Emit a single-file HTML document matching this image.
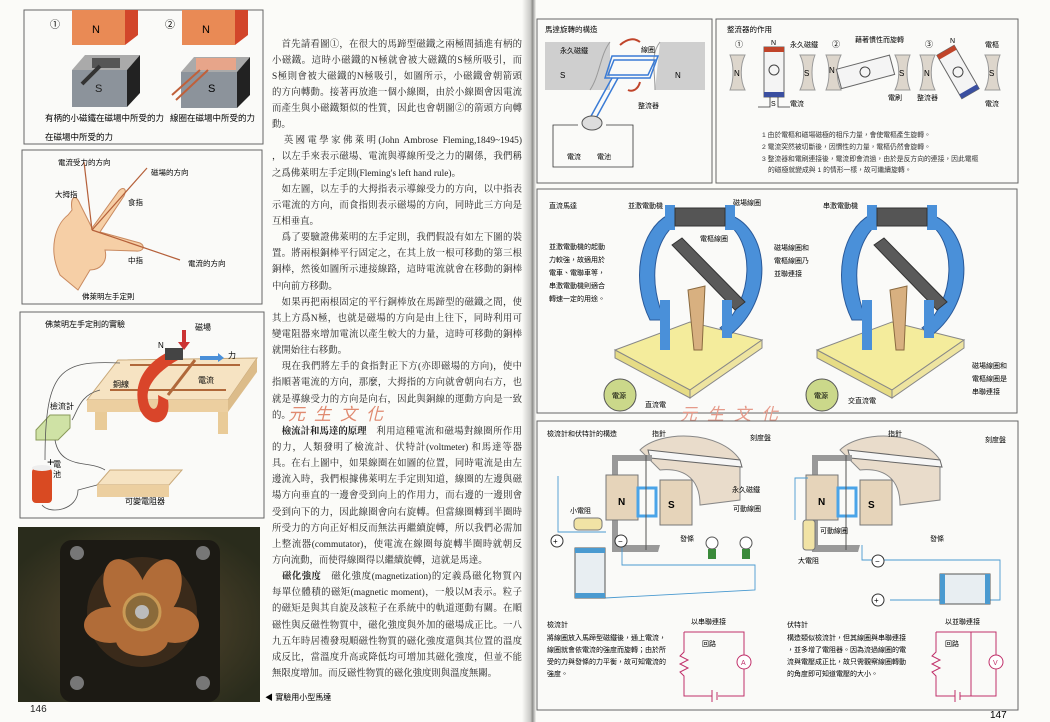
<!DOCTYPE html>
<html><head><meta charset="utf-8"><style>
*{margin:0;padding:0;box-sizing:border-box}
body{width:1050px;height:722px;overflow:hidden;background:#fbfbf8;position:relative;font-family:"Liberation Serif","Noto Serif CJK SC","Noto Sans CJK TC",serif;color:#222}
.l{position:absolute;left:272px;width:250px;font-size:9.4px;line-height:15px;white-space:nowrap;text-align:justify;text-align-last:justify;letter-spacing:0;overflow:hidden}
.l.e{text-align-last:left}
.l b{font-weight:bold;letter-spacing:-0.3px}
svg text{font-family:"Liberation Sans","Noto Sans CJK TC",sans-serif}
</style></head><body>
<svg width="1050" height="722" style="position:absolute;left:0;top:0">
<defs>
<linearGradient id="gut" x1="0" x2="1"><stop offset="0" stop-color="#fbfbf8"/><stop offset=".6" stop-color="#c9c9c6"/><stop offset=".75" stop-color="#8d8d8a"/><stop offset="1" stop-color="#f4f4f1"/></linearGradient>
<radialGradient id="ph" cx=".5" cy=".55" r=".6"><stop offset="0" stop-color="#5a4a30"/><stop offset="1" stop-color="#2a2c1c"/></radialGradient>
</defs>
<rect x="522" y="0" width="14" height="722" fill="url(#gut)"/>
<!-- LEFT BOX 1 -->
<rect x="24" y="10" width="239" height="134" fill="#fafaf8" stroke="#666" stroke-width="1"/>
<text x="50" y="28" font-size="10">①</text><text x="165" y="28" font-size="10">②</text>
<polygon points="72,10 125,10 125,45 72,45" fill="#e98a55"/><polygon points="125,10 138,10 138,35 125,45" fill="#d2452a"/>
<text x="92" y="33" font-size="11">N</text>
<polygon points="182,10 235,10 235,45 182,45" fill="#e98a55"/><polygon points="235,10 248,10 248,35 235,45" fill="#d2452a"/>
<text x="202" y="33" font-size="11">N</text>
<polygon points="72,70 85,55 140,55 127,70" fill="#aaa"/><polygon points="72,70 127,70 127,107 72,107" fill="#8c939b"/><polygon points="127,70 140,55 140,93 127,107" fill="#222"/>
<rect x="92" y="58" width="28" height="10" fill="#555"/><line x1="100" y1="66" x2="82" y2="84" stroke="#333" stroke-width="4"/>
<text x="95" y="92" font-size="11" fill="#222">S</text>
<polygon points="181,72 194,57 250,57 237,72" fill="#aaa"/><polygon points="181,72 237,72 237,108 181,108" fill="#8c939b"/><polygon points="237,72 250,57 250,95 237,108" fill="#222"/>
<rect x="196" y="58" width="40" height="12" fill="#e7a58a"/><line x1="200" y1="70" x2="172" y2="95" stroke="#c0603a" stroke-width="2"/><line x1="208" y1="70" x2="176" y2="100" stroke="#c0603a" stroke-width="2"/>
<text x="208" y="92" font-size="11">S</text>
<text x="45" y="121" font-size="8.5">有柄的小磁鐵在磁場中所受的力</text>
<text x="170" y="121" font-size="8.5">線圈在磁場中所受的力</text>
<text x="45" y="140" font-size="8.5">在磁場中所受的力</text>
<!-- BOX 2 -->
<rect x="22" y="150" width="240" height="154" fill="#fafaf8" stroke="#666"/>
<path d="M60,275 C48,250 55,225 68,215 L72,210 C70,198 75,192 80,204 L92,228 L118,192 C122,186 128,188 124,196 L100,232 L140,243 C146,246 143,252 136,251 L105,250 C108,262 100,270 90,270 L78,290 Z" fill="#f6cfa6" stroke="#c98a60"/>
<g stroke="#b5603a" stroke-width="1.2" fill="none">
<line x1="92" y1="230" x2="84" y2="162"/><line x1="92" y1="230" x2="147" y2="168"/><line x1="92" y1="230" x2="180" y2="260"/>
</g>
<g font-size="7.5"><text x="58" y="165">電流受力的方向</text><text x="151" y="175">磁場的方向</text><text x="55" y="197">大拇指</text><text x="128" y="205">食指</text><text x="128" y="263">中指</text><text x="188" y="266">電流的方向</text><text x="82" y="299">佛萊明左手定則</text></g>
<!-- BOX 3 -->
<rect x="20" y="312" width="244" height="206" fill="#fafaf8" stroke="#666"/>
<text x="45" y="327" font-size="8">佛萊明左手定則的實驗</text>
<polygon points="87,400 118,360 257,358 228,400" fill="#f6e3c2" stroke="#c9a97a"/><polygon points="87,400 228,400 228,412 87,412" fill="#eccfa0"/><polygon points="228,400 257,358 257,372 228,412" fill="#dcbc8a"/>
<rect x="95" y="412" width="12" height="18" fill="#e9cb98"/><rect x="218" y="412" width="10" height="22" fill="#e9cb98"/>
<line x1="130" y1="365" x2="240" y2="365" stroke="#b0683a" stroke-width="2"/><line x1="110" y1="390" x2="226" y2="390" stroke="#b0683a" stroke-width="2"/>
<line x1="195" y1="360" x2="168" y2="395" stroke="#b0683a" stroke-width="3"/>
<path d="M172,350 C150,360 130,380 140,410 C150,430 172,425 168,400 L158,395 C160,412 150,413 148,400 C145,385 160,370 178,360 Z" fill="#d9452a"/>
<rect x="165" y="348" width="18" height="12" fill="#444"/>
<rect x="182" y="330" width="4" height="12" fill="#c33"/><polygon points="178,342 190,342 184,350" fill="#c33"/>
<rect x="200" y="356" width="18" height="4" fill="#4a8fd8"/><polygon points="218,353 224,358 218,362" fill="#4a8fd8"/>
<g font-size="8"><text x="158" y="348">N</text><text x="195" y="330">磁場</text><text x="228" y="358">力</text><text x="198" y="383">電流</text><text x="113" y="387">銅線</text><text x="50" y="409">檢流計</text><text x="53" y="467">電</text><text x="53" y="477">池</text><text x="125" y="504">可變電阻器</text></g>
<polygon points="36,430 50,415 70,415 70,428 58,440 36,440" fill="#cfe2a5" stroke="#8a9a5a"/>
<text x="47" y="466" font-size="12">+</text>
<rect x="32" y="468" width="20" height="35" rx="4" fill="#d94a22"/><ellipse cx="42" cy="468" rx="10" ry="3" fill="#eee"/>
<polygon points="97,485 110,470 182,470 169,485" fill="#f6e3c2" stroke="#c9a97a"/><rect x="97" y="485" width="72" height="12" fill="#eccfa0"/>
<g stroke="#555" fill="none" stroke-width=".8"><path d="M120,363 C60,360 45,370 45,460"/><path d="M100,390 C80,395 78,410 72,420"/><path d="M55,440 C60,470 90,460 105,470"/><path d="M42,505 C50,515 78,510 78,490 L97,485"/></g>
<!-- PHOTO -->
<rect x="18" y="527" width="242" height="175" fill="url(#ph)"/>
<rect x="60" y="540" width="160" height="162" rx="12" fill="#1c1a14"/>
<circle cx="142" cy="612" r="55" fill="#3a2a1a"/>
<g fill="#b8703a" opacity=".95"><ellipse cx="125" cy="590" rx="20" ry="32" transform="rotate(-20 125 590)"/><ellipse cx="160" cy="590" rx="20" ry="32" transform="rotate(20 160 590)"/><ellipse cx="110" cy="625" rx="26" ry="18"/><ellipse cx="175" cy="625" rx="24" ry="18"/><ellipse cx="142" cy="640" rx="26" ry="16"/></g>
<circle cx="142" cy="612" r="18" fill="#8a6a3a" stroke="#c99a55" stroke-width="3"/>
<circle cx="142" cy="612" r="7" fill="#bbb"/>
<circle cx="77" cy="553" r="7" fill="#777"/><circle cx="203" cy="553" r="7" fill="#777"/><circle cx="77" cy="683" r="7" fill="#777"/><circle cx="203" cy="683" r="7" fill="#777"/>
<text x="30" y="712" font-size="10" fill="#222">146</text>
<text x="265" y="700" font-size="8">◀ 實驗用小型馬達</text>
<!-- RIGHT BOX A -->
<rect x="537" y="19" width="175" height="164" fill="#fafaf8" stroke="#666"/>
<text x="545" y="32" font-size="7.5">馬達旋轉的構造</text>
<polygon points="545,42 610,42 610,90 590,90 545,90" fill="#cfcfcf"/><path d="M590,90 C600,75 600,55 610,42" stroke="#999" fill="none"/>
<polygon points="660,42 705,42 705,90 655,90" fill="#cfcfcf"/><path d="M655,90 C655,70 650,55 660,42" stroke="#999" fill="none"/>
<text x="560" y="53" font-size="7">永久磁鐵</text><text x="560" y="78" font-size="8">S</text><text x="675" y="78" font-size="8">N</text>
<text x="641" y="52" font-size="7">線圈</text><text x="638" y="108" font-size="7">整流器</text>
<g stroke="#3a7bd5" stroke-width="1.5" fill="none"><polygon points="612,56 658,56 650,78 605,78"/><polygon points="614,60 655,60 648,75 608,75"/><line x1="612" y1="78" x2="590" y2="118"/><line x1="618" y1="78" x2="595" y2="120"/></g>
<path d="M620,45 C628,38 635,38 640,42" stroke="#c0442a" stroke-width="2" fill="none"/><path d="M640,82 C638,90 632,92 628,90" stroke="#c0442a" stroke-width="2" fill="none"/>
<ellipse cx="592" cy="123" rx="10" ry="7" fill="#ddd" stroke="#555"/>
<g stroke="#333" fill="none" stroke-width=".8"><path d="M578,125 L553,125 L553,167 L633,167 L633,125 L606,125"/></g>
<text x="567" y="159" font-size="7">電流</text><text x="597" y="159" font-size="7">電池</text>
<!-- RIGHT BOX B -->
<rect x="716" y="19" width="302" height="164" fill="#fafaf8" stroke="#666"/>
<text x="727" y="32" font-size="7.5">整流器的作用</text>
<g font-size="8"><text x="735" y="47">①</text><text x="832" y="47">②</text><text x="925" y="47">③</text></g>
<g fill="#ddd6cc" stroke="#999"><path d="M730,55 L745,55 C740,65 740,80 745,90 L730,90 C734,80 734,65 730,55Z"/><path d="M800,55 L815,55 C811,65 811,80 815,90 L800,90 C805,80 805,65 800,55Z"/><path d="M826,55 L841,55 C836,65 836,80 841,90 L826,90 C830,80 830,65 826,55Z"/><path d="M895,55 L910,55 C906,65 906,80 910,90 L895,90 C900,80 900,65 895,55Z"/><path d="M920,55 L935,55 C930,65 930,80 935,90 L920,90 C924,80 924,65 920,55Z"/><path d="M985,55 L1000,55 C996,65 996,80 1000,90 L985,90 C990,80 990,65 985,55Z"/></g>
<g font-size="8"><text x="734" y="76">N</text><text x="804" y="76">S</text><text x="829" y="73">N</text><text x="899" y="76">S</text><text x="924" y="76">N</text><text x="989" y="76">S</text></g>
<rect x="764" y="47" width="20" height="50" fill="#f4f4f4" stroke="#666"/><rect x="764" y="47" width="20" height="5" fill="#c0442a"/><rect x="764" y="92" width="20" height="5" fill="#3a4fa0"/>
<circle cx="774" cy="70" r="5" fill="none" stroke="#444"/>
<g transform="rotate(-15 865 72)"><rect x="838" y="62" width="55" height="20" fill="#f4f4f4" stroke="#666"/><circle cx="865" cy="72" r="5" fill="none" stroke="#444"/></g>
<g transform="rotate(-30 958 72)"><rect x="948" y="47" width="20" height="50" fill="#f4f4f4" stroke="#666"/><rect x="948" y="47" width="20" height="5" fill="#c0442a"/><rect x="948" y="92" width="20" height="5" fill="#3a4fa0"/><circle cx="958" cy="72" r="5" fill="none" stroke="#444"/></g>
<g font-size="7"><text x="771" y="45">N</text><text x="771" y="106">S</text><text x="790" y="47">永久磁鐵</text><text x="855" y="42">藉著慣性而旋轉</text><text x="790" y="106">電流</text><text x="888" y="100">電刷</text><text x="917" y="100">整流器</text><text x="985" y="47">電樞</text><text x="985" y="106">電流</text><text x="950" y="43">N</text></g>
<g stroke="#333" stroke-width=".8" fill="none"><path d="M758,107 L770,107 L770,97"/><path d="M778,97 L778,107 L790,107"/></g>
<g font-size="6.8" fill="#333"><text x="762" y="137">1 由於電樞和磁場磁極的相斥力量，會使電樞產生旋轉。</text><text x="762" y="149">2 電流突然被切斷後，因慣性的力量，電樞仍然會旋轉。</text><text x="762" y="161">3 整流器和電刷連接後，電流即會流過，由於是反方向的連接，因此電樞</text><text x="768" y="172">的磁極就變成與 1 的情形一樣，故可繼續旋轉。</text></g>
<!-- MIDDLE -->
<rect x="537" y="189" width="480" height="224" fill="#fafaf8" stroke="#666"/>
<g font-size="7"><text x="549" y="208">直流馬達</text><text x="628" y="208">並激電動機</text><text x="733" y="205">磁場線圈</text><text x="700" y="241">電樞線圈</text><text x="823" y="208">串激電動機</text>
<text x="549" y="249">並激電動機的起動</text><text x="549" y="262">力較強，故適用於</text><text x="549" y="275">電車、電聯車等，</text><text x="549" y="288">串激電動機則適合</text><text x="549" y="301">轉速一定的用途。</text>
<text x="774" y="250">磁場線圈和</text><text x="774" y="263">電樞線圈乃</text><text x="774" y="276">並聯連接</text>
<text x="972" y="368">磁場線圈和</text><text x="972" y="381">電樞線圈是</text><text x="972" y="394">串聯連接</text>
<text x="645" y="407">直流電</text><text x="848" y="403">交直流電</text></g>
<g id="mot">
<polygon points="615,350 690,322 762,340 690,390" fill="#f4ec9c" stroke="#888"/><polygon points="615,350 690,390 690,398 615,358" fill="#e6dc85" stroke="#888"/><polygon points="690,390 762,340 762,348 690,398" fill="#eee4a0" stroke="#888"/>
<path d="M668,215 C640,230 630,280 650,320 L665,320 C648,285 652,240 678,222Z" fill="#4a90d9" stroke="#2a5a9a"/>
<path d="M730,215 C770,230 775,300 730,335 L720,328 C755,300 755,240 725,222Z" fill="#4a90d9" stroke="#2a5a9a"/>
<rect x="665" y="205" width="10" height="25" fill="#4a90d9"/><rect x="725" y="205" width="10" height="25" fill="#4a90d9"/>
<rect x="675" y="208" width="50" height="18" fill="#555" stroke="#333"/>
<polygon points="672,245 682,238 745,302 735,310" fill="#5a5a5a" stroke="#333"/>
<rect x="660" y="300" width="10" height="50" fill="#4a90d9"/><rect x="722" y="300" width="10" height="38" fill="#4a90d9"/>
<polygon points="688,290 705,286 702,350 694,350" fill="#d8b080" stroke="#8a6a40"/>
<circle cx="620" cy="395" r="16" fill="#cbd88a" stroke="#555"/><text x="612" y="398" font-size="7">電源</text>
</g>
<use href="#mot" x="202" y="0"/>
<text x="680" y="420" font-size="17" fill="#e59a8a" letter-spacing="10" font-style="italic">元生文化</text>
<!-- BOTTOM -->
<rect x="537" y="421" width="481" height="289" fill="#fafaf8" stroke="#666"/>
<text x="547" y="436" font-size="7">檢流計和伏特計的構造</text>
<g id="gal">
<path d="M640,450 C660,430 720,430 740,460 L740,500 L700,505 C700,475 680,468 660,470Z" fill="#e9dccb" stroke="#888"/>
<polygon points="648,450 740,460 742,467 650,458" fill="#f7f7f7" stroke="#666"/>
<rect x="612" y="455" width="6" height="95" fill="#999"/><rect x="612" y="455" width="40" height="6" fill="#999"/><polygon points="612,545 660,545 658,552 612,552" fill="#999"/>
<rect x="606" y="475" width="32" height="45" fill="#e6d4ba" stroke="#777"/><rect x="660" y="480" width="32" height="45" fill="#e6d4ba" stroke="#777"/>
<text x="618" y="505" font-size="10" font-weight="bold">N</text><text x="668" y="508" font-size="10" font-weight="bold">S</text>
<rect x="638" y="488" width="18" height="28" fill="none" stroke="#4aa4e8" stroke-width="3"/>
<line x1="646" y1="455" x2="646" y2="550" stroke="#555"/>
</g>
<use href="#gal" x="200" y="0"/>
<g font-size="7"><text x="652" y="436">指針</text><text x="750" y="440">刻度盤</text><text x="732" y="492">永久磁鐵</text><text x="733" y="511">可動線圈</text><text x="680" y="541">發條</text><text x="570" y="513">小電阻</text>
<text x="888" y="436">指針</text><text x="985" y="442">刻度盤</text><text x="820" y="533">可動線圈</text><text x="930" y="541">發條</text><text x="798" y="563">大電阻</text></g>
<rect x="574" y="518" width="28" height="12" rx="4" fill="#f1e3a5" stroke="#777"/>
<rect x="803" y="520" width="12" height="30" rx="3" fill="#f1e3a5" stroke="#777"/>
<g stroke="#4a9ad0" fill="none" stroke-width=".9"><path d="M558,476 L558,532 L606,532"/><path d="M622,540 L622,565 L755,565 L755,590 L605,598"/><path d="M808,478 L795,478 L795,520"/><path d="M862,545 L862,560 L1000,560 L1000,600 L890,600"/></g>
<circle cx="557" cy="541" r="6" fill="#fff" stroke="#333"/><text x="553" y="544" font-size="8">+</text>
<circle cx="621" cy="541" r="6" fill="#fff" stroke="#333"/><text x="618" y="544" font-size="8">−</text>
<circle cx="878" cy="561" r="6" fill="#fff" stroke="#333"/><text x="875" y="564" font-size="8">−</text>
<circle cx="878" cy="600" r="6" fill="#fff" stroke="#333"/><text x="874" y="603" font-size="8">+</text>
<rect x="575" y="548" width="30" height="50" fill="#e8eef2" stroke="#555"/><rect x="575" y="548" width="30" height="5" fill="#4a9ad0"/><rect x="575" y="593" width="30" height="5" fill="#4a9ad0"/>
<rect x="940" y="574" width="50" height="30" fill="#e8eef2" stroke="#555"/><rect x="940" y="574" width="5" height="30" fill="#4a9ad0"/><rect x="985" y="574" width="5" height="30" fill="#4a9ad0"/>
<circle cx="712" cy="543" r="6" fill="#fff" stroke="#555"/><rect x="708" y="549" width="8" height="10" fill="#3a8a3a"/>
<circle cx="746" cy="543" r="6" fill="#fff" stroke="#555"/><rect x="742" y="549" width="8" height="10" fill="#3a8a3a"/>
<g font-size="7"><text x="547" y="627">檢流計</text><text x="547" y="640">將線圈放入馬蹄型磁鐵後，通上電流，</text><text x="547" y="652">線圈就會依電流的強度而旋轉；由於所</text><text x="547" y="664">受的力與發條的力平衡，故可知電流的</text><text x="547" y="676">強度。</text>
<text x="691" y="624">以串聯連接</text><text x="702" y="646">回路</text>
<text x="787" y="627">伏特計</text><text x="787" y="640">構造類似檢流計，但其線圈與串聯連接</text><text x="787" y="652">，並多增了電阻器。因為流過線圈的電</text><text x="787" y="664">流與電壓成正比，故只需觀察線圈轉動</text><text x="787" y="676">的角度即可知道電壓的大小。</text>
<text x="945" y="624">以並聯連接</text><text x="945" y="646">回路</text></g>
<g stroke="#c0306a" fill="none" stroke-width="1"><path d="M684,632 L744,632 L744,696 L718,696 M712,696 L684,696 L684,676 L680,672 L688,668 L680,664 L688,660 L680,656 L684,652 L684,632"/><line x1="712" y1="690" x2="712" y2="702"/><line x1="717" y1="692" x2="717" y2="700"/>
<path d="M936,632 L996,632 L996,696 L960,696 M955,696 L936,696 L936,676 L932,672 L940,668 L932,664 L940,660 L932,656 L936,652 L936,632 M971,632 L971,696"/><line x1="955" y1="690" x2="955" y2="702"/><line x1="960" y1="692" x2="960" y2="700"/></g>
<circle cx="744" cy="662" r="7" fill="#fff" stroke="#c0306a"/><text x="741" y="665" font-size="7" fill="#c0306a">A</text>
<circle cx="996" cy="662" r="7" fill="#fff" stroke="#c0306a"/><text x="993" y="665" font-size="7" fill="#c0306a">V</text>
<text x="990" y="718" font-size="10">147</text>
</svg>
<div class="l" style="top:38px">　首先請看圖①，在很大的馬蹄型磁鐵之兩極間插進有柄的</div>
<div class="l" style="top:54px">小磁鐵。這時小磁鐵的N極就會被大磁鐵的S極所吸引，而</div>
<div class="l" style="top:70px">S極則會被大磁鐵的N極吸引，如圖所示，小磁鐵會朝箭頭</div>
<div class="l" style="top:86px">的方向轉動。接著再放進一個小線圈，由於小線圈會因電流</div>
<div class="l" style="top:102px">而產生與小磁鐵類似的性質，因此也會朝圖②的箭頭方向轉</div>
<div class="l e" style="top:118px">動。</div>
<div class="l" style="top:134px">　英國電學家佛萊明(John Ambrose Fleming,1849~1945)</div>
<div class="l" style="top:150px">，以左手來表示磁場、電流與導線所受之力的關係，我們稱</div>
<div class="l e" style="top:167px">之爲佛萊明左手定則(Fleming's left hand rule)。</div>
<div class="l" style="top:183px">　如左圖，以左手的大拇指表示導線受力的方向，以中指表</div>
<div class="l" style="top:199px">示電流的方向，而食指則表示磁場的方向，同時此三方向是</div>
<div class="l e" style="top:215px">互相垂直。</div>
<div class="l" style="top:231px">　爲了要驗證佛萊明的左手定則，我們假設有如左下圖的裝</div>
<div class="l" style="top:247px">置。將兩根銅棒平行固定之，在其上放一根可移動的第三根</div>
<div class="l" style="top:263px">銅棒，然後如圖所示連接線路，這時電流就會在移動的銅棒</div>
<div class="l e" style="top:280px">中向前方移動。</div>
<div class="l" style="top:296px">　如果再把兩根固定的平行銅棒放在馬蹄型的磁鐵之間，使</div>
<div class="l" style="top:312px">其上方爲N極，也就是磁場的方向是由上往下，同時利用可</div>
<div class="l" style="top:328px">變電阻器來增加電流以產生較大的力量，這時可移動的銅棒</div>
<div class="l e" style="top:344px">就開始往右移動。</div>
<div class="l" style="top:360px">　現在我們將左手的食指對正下方(亦即磁場的方向)，使中</div>
<div class="l" style="top:376px">指順著電流的方向，那麼，大拇指的方向就會朝向右方，也</div>
<div class="l" style="top:393px">就是導線受力的方向是向右，因此與銅線的運動方向是一致</div>
<div class="l e" style="top:409px">的。</div>
<div class="l" style="top:425px">　<b>檢流計和馬達的原理</b>　利用這種電流和磁場對線圈所作用</div>
<div class="l" style="top:441px">的力，人類發明了檢流計、伏特計(voltmeter) 和馬達等器</div>
<div class="l" style="top:457px">具。在右上圖中，如果線圈在如圖的位置，同時電流是由左</div>
<div class="l" style="top:473px">邊流入時，我們根據佛萊明左手定則知道，線圈的左邊與磁</div>
<div class="l" style="top:489px">場方向垂直的一邊會受到向上的作用力，而右邊的一邊則會</div>
<div class="l" style="top:506px">受到向下的力，因此線圈會向右旋轉。但當線圈轉到半圈時</div>
<div class="l" style="top:522px">所受力的方向正好相反而無法再繼續旋轉，所以我們必需加</div>
<div class="l" style="top:538px">上整流器(commutator)，使電流在線圈每旋轉半圈時就朝反</div>
<div class="l e" style="top:554px">方向流動，而使得線圈得以繼續旋轉，這就是馬達。</div>
<div class="l" style="top:570px">　<b>磁化強度</b>　磁化強度(magnetization)的定義爲磁化物質內</div>
<div class="l" style="top:586px">每單位體積的磁矩(magnetic moment)，一般以M表示。粒子</div>
<div class="l" style="top:602px">的磁矩是與其自旋及該粒子在系統中的軌道運動有關。在順</div>
<div class="l" style="top:619px">磁性與反磁性物質中，磁化強度與外加的磁場成正比。一八</div>
<div class="l" style="top:635px">九五年時居禮發現順磁性物質的磁化強度還與其位置的溫度</div>
<div class="l" style="top:651px">成反比，當溫度升高或降低均可增加其磁化強度，但並不能</div>
<div class="l e" style="top:667px">無限度增加。而反磁性物質的磁化強度則與溫度無關。</div>
<div style="position:absolute;left:288px;top:400px;font-size:17px;color:#e08a70;letter-spacing:9px;font-style:italic;font-family:'Noto Sans CJK TC',sans-serif">元生文化</div>
</body></html>
